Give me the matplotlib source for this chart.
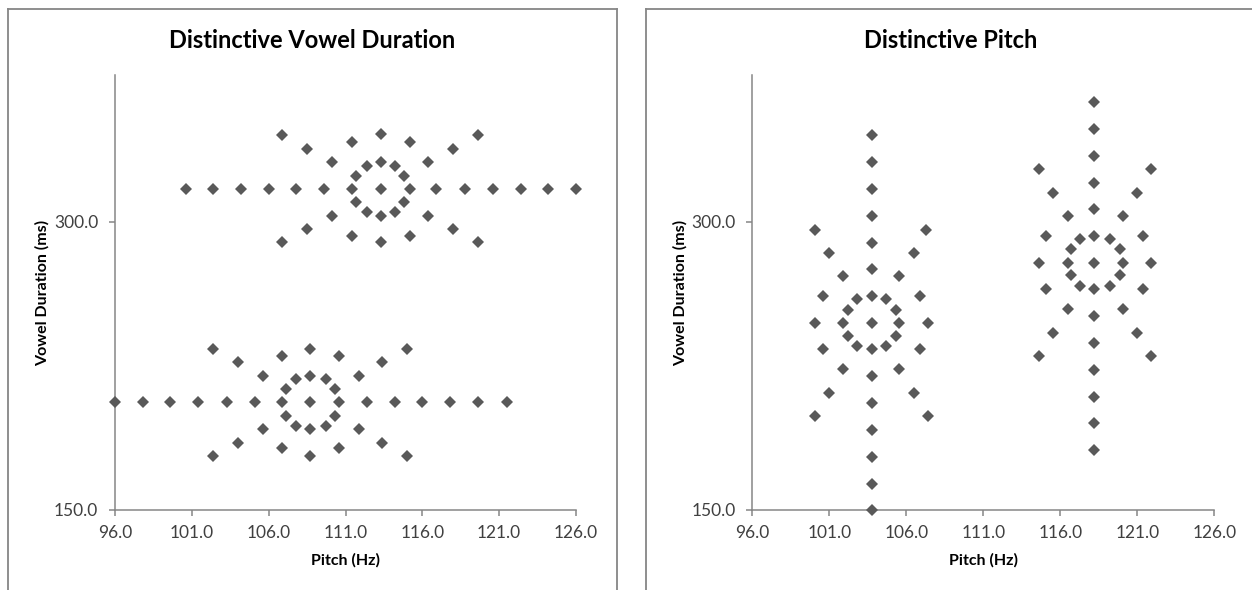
import matplotlib
matplotlib.use("Agg")
import matplotlib.pyplot as plt
from matplotlib.lines import Line2D

plt.rcParams['font.family'] = ['Lato', 'DejaVu Sans']

# ---- data -------------------------------------------------------------
# Panel 1: vowel duration distinguishes the two groups
long_pitch = [100.6, 102.4, 104.2, 106.0, 107.8, 109.6, 111.4, 113.3, 115.2, 116.9,
              118.8, 120.6, 122.4, 124.2, 126.0,
              113.3, 113.3, 112.4, 114.2, 111.7, 114.8, 111.7, 114.8, 112.4, 114.2,
              110.1, 116.4, 108.5, 118.0, 106.9, 119.6, 111.4, 113.3, 115.2,
              110.1, 116.4, 108.5, 118.0, 106.9, 119.6, 111.4, 113.3, 115.2]
long_dur = [317.0, 317.0, 317.0, 317.0, 317.0, 317.0, 317.0, 317.0, 317.0, 317.0,
            317.0, 317.0, 317.0, 317.0, 317.0,
            331.2, 303.1, 329.1, 329.1, 323.9, 323.9, 310.1, 310.1, 305.2, 305.2,
            330.9, 331.2, 337.8, 337.8, 345.1, 345.1, 341.3, 345.5, 341.3,
            303.1, 303.1, 296.2, 296.2, 289.3, 289.3, 292.7, 289.3, 292.7]

short_pitch = [96.0, 97.8, 99.6, 101.4, 103.3, 105.1, 106.9, 108.7, 110.6, 112.4,
               114.2, 116.0, 117.8, 119.6, 121.5,
               108.7, 108.7, 107.8, 109.7, 107.1, 110.3, 107.1, 110.3, 107.8, 109.7,
               105.6, 111.9, 104.0, 113.4, 102.4, 115.0, 106.9, 108.7, 110.6,
               105.6, 111.9, 104.0, 113.4, 102.4, 115.0, 106.9, 108.7, 110.6]
short_dur = [206.0, 206.0, 206.0, 206.0, 206.0, 206.0, 206.0, 206.0, 206.0, 206.0,
             206.0, 206.0, 206.0, 206.0, 206.0,
             219.9, 192.0, 218.0, 218.0, 212.8, 212.8, 199.1, 199.1, 193.7, 193.7,
             219.7, 219.7, 226.8, 226.8, 233.8, 233.8, 230.1, 233.8, 230.1,
             192.0, 192.0, 184.7, 184.7, 178.1, 178.1, 182.1, 178.1, 182.1]

# Panel 2: pitch distinguishes the two groups
low_pitch = [103.8, 103.8, 103.8, 103.8, 103.8, 103.8, 103.8, 103.8, 103.8, 103.8,
             103.8, 103.8, 103.8, 103.8, 103.8,
             101.9, 105.5, 102.8, 104.7, 102.2, 105.3, 102.2, 105.3, 102.8, 104.7,
             100.1, 107.4, 100.6, 106.9, 100.6, 106.9, 101.9, 105.5, 101.9, 105.5,
             101.0, 106.5, 100.1, 107.4, 100.1, 107.3, 101.0, 106.5]
low_dur = [345.1, 330.9, 316.9, 303.0, 289.1, 275.2, 261.3, 247.5, 233.6, 219.7,
           205.8, 191.5, 177.6, 163.7, 150.0,
           247.5, 247.5, 259.6, 259.6, 254.1, 254.1, 240.5, 240.5, 235.3, 235.3,
           247.5, 247.5, 261.3, 261.3, 233.6, 233.6, 271.7, 271.7, 223.2, 223.2,
           211.0, 211.0, 199.1, 199.1, 295.7, 295.7, 283.6, 283.6]

high_pitch = [118.2, 118.2, 118.2, 118.2, 118.2, 118.2, 118.2, 118.2, 118.2, 118.2,
              118.2, 118.2, 118.2, 118.2,
              116.5, 120.1, 117.3, 119.2, 116.7, 119.9, 116.7, 119.9, 117.3, 119.2,
              114.6, 121.9, 115.5, 121.0, 116.5, 120.1, 115.1, 121.4, 114.6, 121.9,
              115.1, 121.4, 116.5, 120.1, 115.5, 121.0, 114.6, 121.9]
high_dur = [362.1, 348.1, 334.2, 320.3, 306.5, 292.6, 278.7, 264.8, 250.9, 237.0,
            222.8, 208.9, 195.1, 181.2,
            278.7, 278.7, 290.8, 290.8, 285.6, 285.6, 272.0, 272.0, 266.5, 266.5,
            327.3, 327.3, 315.1, 315.1, 303.0, 303.0, 292.6, 292.6, 278.7, 278.7,
            264.8, 264.8, 254.4, 254.4, 242.2, 242.2, 230.1, 230.1]

titles = ["Distinctive Vowel Duration", "Distinctive Pitch"]
x_label = "Pitch (Hz)"
y_label = "Vowel Duration (ms)"
x_ticks = [96.0, 101.0, 106.0, 111.0, 116.0, 121.0, 126.0]
y_ticks = [150.0, 300.0]
x_range = (96.0, 126.0)
y_range = (150.0, 376.3)

# ---- style ------------------------------------------------------------
W, H = 1252, 590
MARKER_COLOR = "#595959"
AXIS_COLOR = "#868686"
TEXT_COLOR = "#404040"

fig = plt.figure(figsize=(W / 100, H / 100), dpi=100)
fig.patch.set_facecolor("white")


def px_box(left, top, right, bottom):
    return [left / W, 1 - bottom / H, (right - left) / W, (bottom - top) / H]


def panel_frame(left, right, top=9):
    kw = dict(transform=fig.transFigure, color=AXIS_COLOR, lw=1.3)
    fig.add_artist(Line2D([left / W, left / W], [1 - top / H, -0.05], **kw))
    fig.add_artist(Line2D([left / W, right / W], [1 - top / H, 1 - top / H], **kw))
    fig.add_artist(Line2D([right / W, right / W], [1 - top / H, -0.05], **kw))


panel_frame(7.7, 616.7)
panel_frame(645.7, 1254.7)

axes = [fig.add_axes(px_box(115, 75, 576, 510)),
        fig.add_axes(px_box(752.3, 75, 1214.3, 510))]
series = [[(long_pitch, long_dur), (short_pitch, short_dur)],
          [(low_pitch, low_dur), (high_pitch, high_dur)]]
panel_left = [7.7, 645.7]

for ax, groups, title, pl in zip(axes, series, titles, panel_left):
    for xs, ys in groups:
        ax.plot(xs, ys, linestyle="none", marker="D", ms=6.6,
                color=MARKER_COLOR, mec=MARKER_COLOR, mew=0, clip_on=False, zorder=3)
    ax.set_xlim(*x_range)
    ax.set_ylim(*y_range)
    ax.set_xticks(x_ticks)
    ax.set_yticks(y_ticks)
    ax.set_xticklabels([f"{v:.1f}" for v in x_ticks])
    ax.set_yticklabels([f"{v:.1f}" for v in y_ticks])
    for side in ("top", "right"):
        ax.spines[side].set_visible(False)
    for side in ("left", "bottom"):
        ax.spines[side].set_color(AXIS_COLOR)
        ax.spines[side].set_linewidth(1.1)
    ax.tick_params(axis="both", direction="out", length=4, width=1.1,
                   color=AXIS_COLOR, labelcolor=TEXT_COLOR, labelsize=12.5)
    ax.tick_params(axis="x", pad=7)
    ax.tick_params(axis="y", pad=8)
    ax.set_facecolor("none")

    # axis titles placed at fixed positions
    bbox = ax.get_position()
    x_mid = (bbox.x0 + bbox.x1) / 2
    y_mid = (bbox.y0 + bbox.y1) / 2
    fig.text(x_mid, 1 - 560 / H, x_label, ha="center", va="center",
             fontsize=11.5, fontweight="bold", color="black")
    fig.text((pl + 34.5) / W, y_mid, y_label, ha="center", va="center",
             rotation=90, fontsize=11.5, fontweight="bold", color="black")
    fig.text((pl + 304.5) / W, 1 - 40 / H, title, ha="center", va="center",
             fontsize=17, fontweight="bold", color="black")

fig.savefig("out.png", dpi=100, facecolor="white")
